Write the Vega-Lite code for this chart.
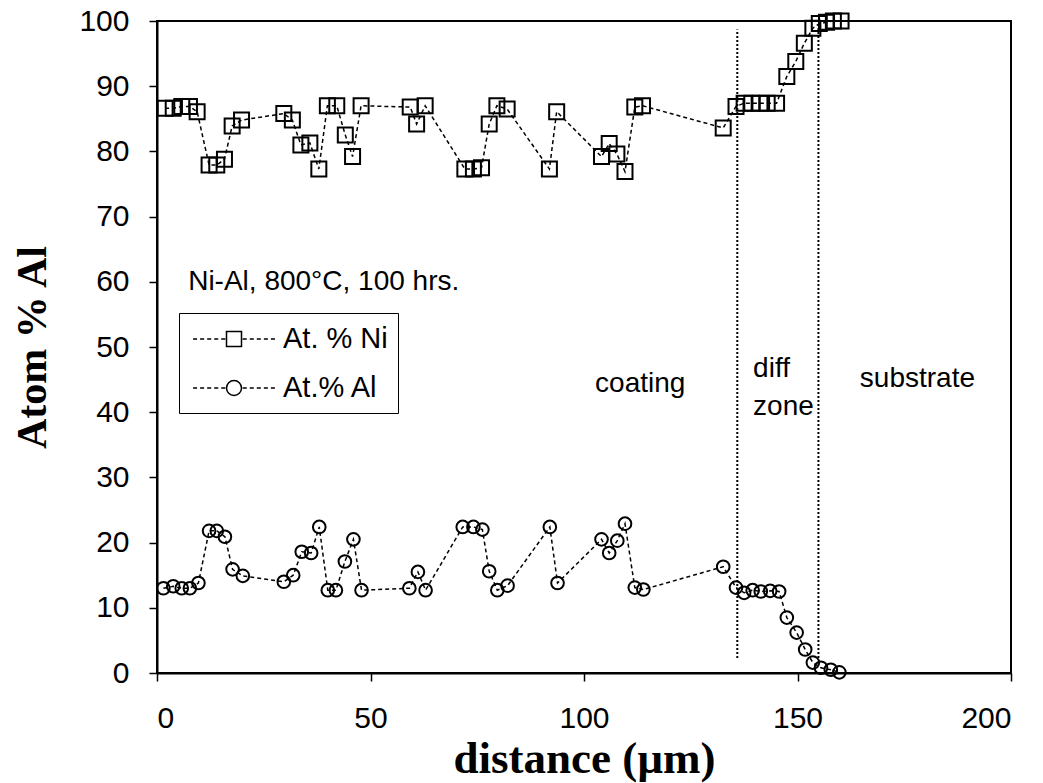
{
  "$schema": "https://vega.github.io/schema/vega-lite/v6.json",
  "width": 854,
  "height": 652,
  "autosize": {"type": "none"},
  "padding": {"left": 157, "top": 21, "right": 32, "bottom": 110},
  "background": "white",
  "config": {
    "view": {"stroke": "black", "strokeWidth": 2},
    "axis": {
      "grid": false,
      "domainColor": "black",
      "domainWidth": 2,
      "tickColor": "black",
      "tickWidth": 1.5,
      "tickSize": 8,
      "labelFont": "Liberation Sans",
      "labelFontSize": 30,
      "labelColor": "black",
      "titleColor": "black",
      "titleFont": "Liberation Serif",
      "titleFontWeight": "bold"
    }
  },
  "datasets": {
    "ni": [
      {"x": 1.9, "y": 86.6}, {"x": 3.8, "y": 86.6}, {"x": 5.8, "y": 86.9}, {"x": 7.6, "y": 86.9},
      {"x": 9.4, "y": 86.1}, {"x": 12.2, "y": 77.9}, {"x": 14.0, "y": 77.9}, {"x": 15.8, "y": 78.8},
      {"x": 17.6, "y": 83.9}, {"x": 19.8, "y": 84.8}, {"x": 29.7, "y": 85.8}, {"x": 31.7, "y": 84.8},
      {"x": 33.7, "y": 81.0}, {"x": 35.8, "y": 81.3}, {"x": 37.9, "y": 77.3}, {"x": 39.9, "y": 87.0},
      {"x": 42.1, "y": 87.0}, {"x": 44.1, "y": 82.5}, {"x": 45.8, "y": 79.2}, {"x": 47.8, "y": 87.0},
      {"x": 59.3, "y": 86.8}, {"x": 60.8, "y": 84.2}, {"x": 62.8, "y": 87.0}, {"x": 72.1, "y": 77.3},
      {"x": 74.1, "y": 77.3}, {"x": 76.0, "y": 77.5}, {"x": 77.8, "y": 84.2}, {"x": 79.6, "y": 87.0},
      {"x": 82.0, "y": 86.5}, {"x": 91.9, "y": 77.3}, {"x": 93.6, "y": 86.1}, {"x": 104.1, "y": 79.2},
      {"x": 105.9, "y": 81.2}, {"x": 107.7, "y": 79.6}, {"x": 109.6, "y": 76.9}, {"x": 111.9, "y": 86.8},
      {"x": 113.7, "y": 87.0}, {"x": 132.6, "y": 83.6}, {"x": 135.6, "y": 86.9}, {"x": 137.5, "y": 87.4},
      {"x": 139.3, "y": 87.4}, {"x": 141.2, "y": 87.4}, {"x": 142.9, "y": 87.4}, {"x": 145.1, "y": 87.4},
      {"x": 147.5, "y": 91.5}, {"x": 149.6, "y": 93.8}, {"x": 151.6, "y": 96.6}, {"x": 153.6, "y": 98.9},
      {"x": 155.1, "y": 99.6}, {"x": 156.8, "y": 99.8}, {"x": 158.4, "y": 100}, {"x": 160.2, "y": 100}
    ],
    "al": [
      {"x": 1.5, "y": 13.0}, {"x": 3.8, "y": 13.3}, {"x": 5.8, "y": 13.0}, {"x": 7.7, "y": 13.0},
      {"x": 9.7, "y": 13.8}, {"x": 12.2, "y": 21.8}, {"x": 14.0, "y": 21.8}, {"x": 15.9, "y": 20.9},
      {"x": 17.7, "y": 15.9}, {"x": 20.1, "y": 14.9}, {"x": 29.7, "y": 14.0}, {"x": 31.9, "y": 15.0},
      {"x": 33.9, "y": 18.6}, {"x": 36.1, "y": 18.4}, {"x": 38.0, "y": 22.4}, {"x": 40.0, "y": 12.7},
      {"x": 41.9, "y": 12.7}, {"x": 44.0, "y": 17.1}, {"x": 46.0, "y": 20.5}, {"x": 47.9, "y": 12.7},
      {"x": 59.1, "y": 13.0}, {"x": 61.1, "y": 15.5}, {"x": 62.9, "y": 12.7}, {"x": 71.6, "y": 22.4},
      {"x": 74.1, "y": 22.4}, {"x": 76.2, "y": 22.0}, {"x": 77.8, "y": 15.6}, {"x": 79.7, "y": 12.7},
      {"x": 82.1, "y": 13.4}, {"x": 92.0, "y": 22.4}, {"x": 93.8, "y": 13.8}, {"x": 104.1, "y": 20.5},
      {"x": 105.9, "y": 18.4}, {"x": 107.8, "y": 20.3}, {"x": 109.6, "y": 22.9}, {"x": 111.9, "y": 13.1},
      {"x": 113.9, "y": 12.8}, {"x": 132.6, "y": 16.3}, {"x": 135.6, "y": 13.1}, {"x": 137.5, "y": 12.3},
      {"x": 139.5, "y": 12.7}, {"x": 141.4, "y": 12.5}, {"x": 143.6, "y": 12.6}, {"x": 145.7, "y": 12.5},
      {"x": 147.5, "y": 8.5}, {"x": 149.8, "y": 6.2}, {"x": 151.8, "y": 3.6}, {"x": 153.6, "y": 1.6},
      {"x": 155.5, "y": 0.8}, {"x": 157.8, "y": 0.5}, {"x": 159.8, "y": 0.1}
    ],
    "zones": [
      {"x": 135.9, "y": 2.3, "y2": 98.7},
      {"x": 154.9, "y": 2.3, "y2": 100}
    ],
    "notes": [
      {"x": 7.3, "y": 58.7, "label": "Ni-Al, 800°C, 100 hrs."},
      {"x": 102.6, "y": 43.1, "label": "coating"},
      {"x": 139.6, "y": 45.4, "label": "diff"},
      {"x": 139.6, "y": 39.6, "label": "zone"},
      {"x": 164.6, "y": 43.9, "label": "substrate"}
    ],
    "legend": [
      {"x": -50, "y": 50, "series": "At. % Ni"},
      {"x": -50, "y": 50, "series": "At.% Al"}
    ]
  },
  "encoding": {
    "x": {
      "field": "x", "type": "quantitative",
      "scale": {"domain": [0, 200], "nice": false},
      "axis": {"values": [0, 50, 100, 150, 200], "labelPadding": 22, "title": "distance (µm)", "titleFontSize": 45, "titleBaseline": "alphabetic", "titleY": 99}
    },
    "y": {
      "field": "y", "type": "quantitative",
      "scale": {"domain": [0, 100], "nice": false},
      "axis": {"values": [0, 10, 20, 30, 40, 50, 60, 70, 80, 90, 100], "labelPadding": 20, "title": "Atom % Al", "titleFontSize": 42, "titleBaseline": "alphabetic", "titleX": -112, "titleY": 326}
    }
  },
  "layer": [
    {
      "data": {"name": "zones"},
      "mark": {"type": "rule", "color": "black", "strokeWidth": 2, "strokeDash": [2, 2]},
      "encoding": {"y2": {"field": "y2"}}
    },
    {
      "data": {"name": "ni"},
      "mark": {"type": "line", "color": "black", "strokeWidth": 1.5, "strokeDash": [4, 3]}
    },
    {
      "data": {"name": "al"},
      "mark": {"type": "line", "color": "black", "strokeWidth": 1.5, "strokeDash": [4, 3]}
    },
    {
      "data": {"name": "ni"},
      "mark": {"type": "point", "shape": "square", "size": 225, "filled": false, "color": "black", "strokeWidth": 2, "opacity": 1}
    },
    {
      "data": {"name": "al"},
      "mark": {"type": "point", "shape": "circle", "size": 160, "filled": false, "color": "black", "strokeWidth": 2, "opacity": 1}
    },
    {
      "data": {"name": "notes"},
      "mark": {"type": "text", "align": "left", "baseline": "alphabetic", "font": "Liberation Sans", "fontSize": 28, "color": "black"},
      "encoding": {"text": {"field": "label"}}
    },
    {
      "data": {"name": "legend"},
      "mark": {"type": "point", "clip": true, "filled": false, "color": "black", "strokeWidth": 1.5, "opacity": 1},
      "encoding": {
        "shape": {
          "field": "series", "type": "nominal",
          "scale": {
            "domain": ["At. % Ni", "At.% Al"],
            "range": [
              "M-2.73,0H-2.46M-2.26,0H-1.99M-1.79,0H-1.52M-1.32,0H-1.05M-0.85,0H-0.58M0.58,0H0.85M1.05,0H1.32M1.52,0H1.79M1.99,0H2.26M2.46,0H2.73M-0.5,-0.5H0.5V0.5H-0.5Z",
              "M-2.73,0H-2.46M-2.26,0H-1.99M-1.79,0H-1.52M-1.32,0H-1.05M-0.85,0H-0.58M0.58,0H0.85M1.05,0H1.32M1.52,0H1.79M1.99,0H2.26M2.46,0H2.73M-0.5,0A0.5,0.5 0 1,0 0.5,0A0.5,0.5 0 1,0 -0.5,0Z"
            ]
          },
          "legend": {
            "title": null,
            "orient": "none",
            "legendX": 22,
            "legendY": 292,
            "strokeColor": "black",
            "fillColor": "white",
            "padding": 10,
            "symbolSize": 900,
            "symbolStrokeColor": "black",
            "symbolFillColor": "white",
            "symbolStrokeWidth": 1.5,
            "symbolOpacity": 1,
            "symbolOffset": 29,
            "labelOffset": 33,
            "rowPadding": 18,
            "labelFont": "Liberation Sans",
            "labelFontSize": 29,
            "labelColor": "black",
            "labelLimit": 300,
            "encode": {
              "symbols": {
                "update": {
                  "stroke": {"value": "black"},
                  "fill": {"value": "white"},
                  "opacity": {"value": 1},
                  "strokeWidth": {"value": 1.5}
                }
              }
            }
          }
        }
      }
    }
  ]
}
